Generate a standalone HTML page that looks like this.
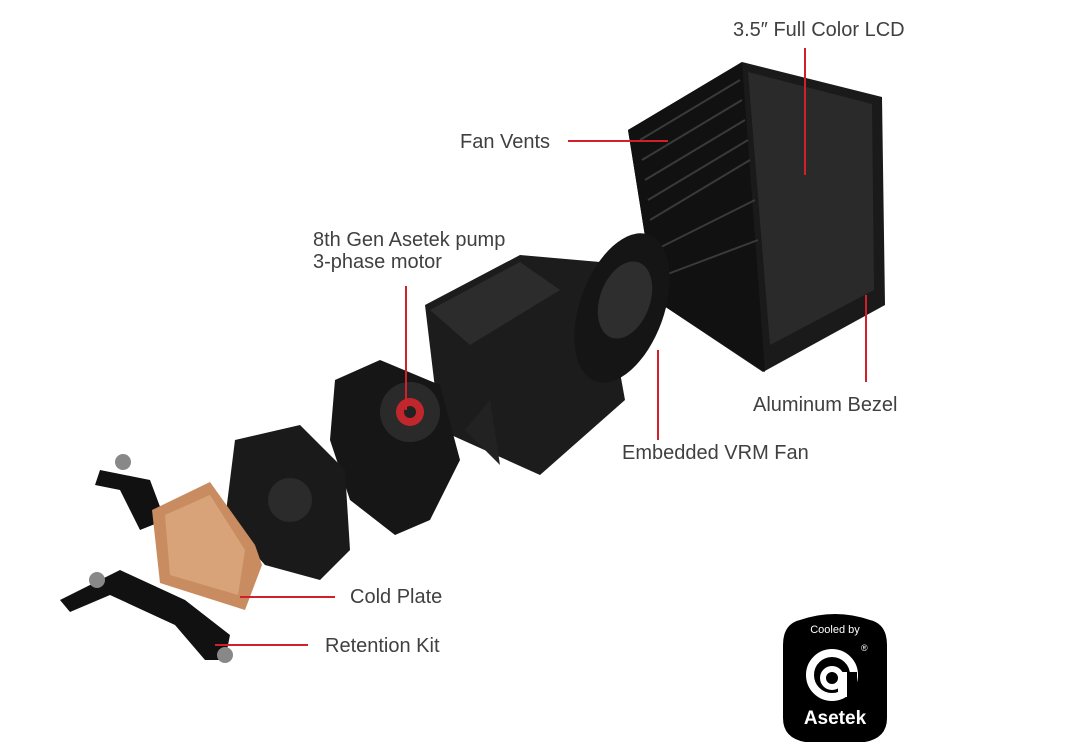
<!DOCTYPE html>
<html><head><meta charset="utf-8"><style>
html,body{margin:0;padding:0;background:#fff;}
body{width:1075px;height:755px;position:relative;overflow:hidden;font-family:"Liberation Sans",sans-serif;}
.l{position:absolute;font-size:20px;color:#404040;white-space:nowrap;line-height:22px;}
</style></head><body>
<svg width="1075" height="755" style="position:absolute;left:0;top:0">
<!-- LCD box -->
<polygon points="628,130 742,62 882,97 885,305 763,372 655,300 648,255" fill="#1a1a1a"/>
<polygon points="748,72 872,104 874,290 770,345" fill="#2a2a2a"/>
<polygon points="628,130 742,62 765,372 655,300 648,255" fill="#111"/>
<g stroke="#3a3a3a" stroke-width="2">
<line x1="640" y1="140" x2="740" y2="80"/><line x1="642" y1="160" x2="742" y2="100"/><line x1="645" y1="180" x2="745" y2="120"/><line x1="648" y1="200" x2="748" y2="140"/><line x1="650" y1="220" x2="750" y2="160"/><line x1="655" y1="250" x2="755" y2="200"/><line x1="665" y1="275" x2="758" y2="240"/>
</g>
<!-- pump body -->
<polygon points="425,305 520,255 600,262 625,400 540,475 440,430" fill="#1c1c1c"/>
<polygon points="430,310 520,262 560,290 470,345" fill="#2c2c2c"/>
<polygon points="465,430 490,400 500,465" fill="#222"/>
<!-- VRM fan -->
<ellipse cx="622" cy="308" rx="42" ry="78" transform="rotate(20 622 308)" fill="#151515"/>
<ellipse cx="625" cy="300" rx="25" ry="40" transform="rotate(20 625 300)" fill="#2e2e2e"/>
<!-- pump motor -->
<polygon points="335,380 380,360 440,385 460,460 430,520 395,535 350,500 330,440" fill="#161616"/>
<circle cx="410" cy="412" r="30" fill="#2a2a2a"/>
<circle cx="410" cy="412" r="14" fill="#c0272d"/>
<circle cx="410" cy="412" r="6" fill="#222"/>
<!-- cold plate housing -->
<polygon points="235,440 300,425 345,470 350,550 320,580 265,565 225,520" fill="#1a1a1a"/>
<circle cx="290" cy="500" r="22" fill="#2b2b2b"/>
<!-- retention top -->
<polygon points="100,470 150,480 165,520 140,530 120,490 95,485" fill="#111"/>
<circle cx="123" cy="462" r="8" fill="#888"/>
<!-- copper plate -->
<polygon points="152,510 210,482 255,545 262,565 245,610 160,583" fill="#c98c60"/>
<polygon points="165,515 210,495 245,550 238,595 170,575" fill="#d9a37a"/>
<!-- retention bottom -->
<polygon points="60,600 120,570 185,600 230,635 225,660 205,660 175,625 110,595 70,612" fill="#111"/>
<circle cx="97" cy="580" r="8" fill="#888"/>
<circle cx="225" cy="655" r="8" fill="#888"/>
<!-- leaders -->
<g stroke="#d0202a" stroke-width="2">
<line x1="805" y1="48" x2="805" y2="175"/>
<line x1="568" y1="141" x2="668" y2="141"/>
<line x1="406" y1="286" x2="406" y2="410"/>
<line x1="866" y1="295" x2="866" y2="382"/>
<line x1="658" y1="350" x2="658" y2="440"/>
<line x1="240" y1="597" x2="335" y2="597"/>
<line x1="215" y1="645" x2="308" y2="645"/>
</g>
<!-- badge -->
<path d="M800,620 Q835,608 870,620 Q887,624 887,645 L887,718 Q887,738 865,742 L805,742 Q783,738 783,718 L783,645 Q783,624 800,620 Z" fill="#000"/>
<text x="835" y="633" fill="#fff" font-size="11" text-anchor="middle" font-family="Liberation Sans">Cooled by</text>
<circle cx="832" cy="675" r="22" fill="none" stroke="#fff" stroke-width="8"/>
<rect x="847" y="672" width="10" height="26" fill="#000"/>
<circle cx="832" cy="678" r="9" fill="none" stroke="#fff" stroke-width="6"/>
<rect x="838" y="672" width="9" height="25" fill="#fff"/>
<text x="861" y="651" fill="#fff" font-size="9">®</text>
<text x="835" y="724" fill="#fff" font-size="19" font-weight="bold" text-anchor="middle" font-family="Liberation Sans">Asetek</text>
</svg>
<div class="l" style="left:733px;top:19px">3.5″ Full Color LCD</div>
<div class="l" style="left:460px;top:131px">Fan Vents</div>
<div class="l" style="left:313px;top:229px">8th Gen Asetek pump</div>
<div class="l" style="left:313px;top:251px">3-phase motor</div>
<div class="l" style="left:753px;top:394px">Aluminum Bezel</div>
<div class="l" style="left:622px;top:442px">Embedded VRM Fan</div>
<div class="l" style="left:350px;top:586px">Cold Plate</div>
<div class="l" style="left:325px;top:635px">Retention Kit</div>
</body></html>
